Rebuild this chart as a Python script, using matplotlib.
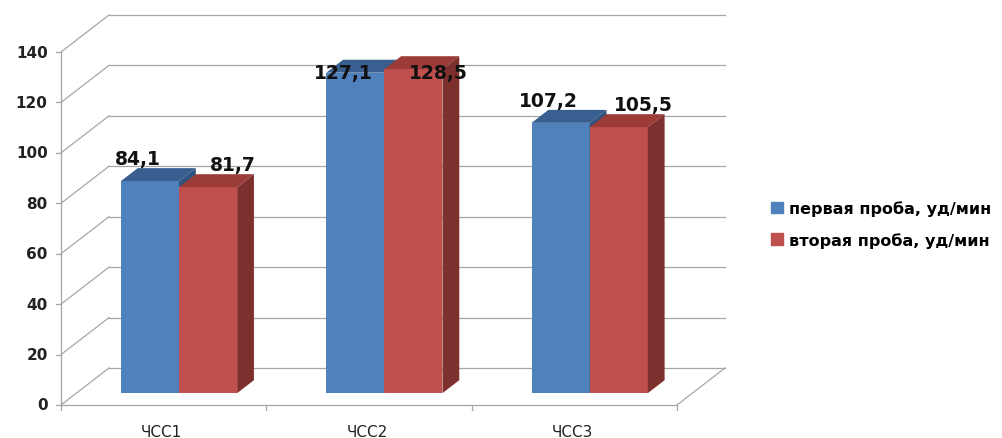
import matplotlib
matplotlib.use('Agg')
import matplotlib.pyplot as plt
from matplotlib.patches import Polygon, Patch

# data
categories = ['ЧСС1', 'ЧСС2', 'ЧСС3']
first_test = [84.1, 127.1, 107.2]
second_test = [81.7, 128.5, 105.5]
series_names = ['первая проба, уд/мин', 'вторая проба, уд/мин']
y_ticks = [0, 20, 40, 60, 80, 100, 120, 140]

front_colors = ['#4F81BD', '#C0504D']
top_colors = ['#385F8F', '#9B3C39']
side_colors = ['#2F5480', '#7E302E']
grid_color = '#a6a6a6'

fig = plt.figure(figsize=(10.03, 4.39), dpi=100)
ax = fig.add_axes([61 / 1003, 33 / 439, 616 / 1003, 353 / 439])
ax.set_xlim(0, 3)
ax.set_ylim(0, 140)
ax.axis('off')

# depth of the 3D box in data units
ddx = 48 / 205.3
ddy = 37 / 2.52
bar_w = 0.283
f0, f1 = 0.32, 0.67   # bar depth range as fraction of box depth

# walls / grid
for v in y_ticks:
    ax.plot([0, ddx], [v, v + ddy], color=grid_color, lw=0.9, clip_on=False)
    ax.plot([ddx, 3 + ddx], [v + ddy, v + ddy], color=grid_color, lw=0.9, clip_on=False)
    ax.plot([-0.024, 0], [v, v], color=grid_color, lw=0.9, clip_on=False)
    ax.text(-0.065, v, str(v), ha='right', va='center', fontsize=11,
            fontweight='bold', color='#222222')
ax.plot([0, 3], [0, 0], color=grid_color, lw=0.9, clip_on=False)
ax.plot([3, 3 + ddx], [0, ddy], color=grid_color, lw=0.9, clip_on=False)
ax.plot([0, 0], [0, 140], color=grid_color, lw=0.9, clip_on=False)
for i in range(4):
    ax.plot([i, i], [0, -2], color=grid_color, lw=0.9, clip_on=False)

for i, c in enumerate(categories):
    ax.text(i + 0.49, -10.5, c, ha='center', va='center', fontsize=11, color='#222222')

# bars
sx0, sy0 = f0 * ddx, f0 * ddy
dx, dy = (f1 - f0) * ddx, (f1 - f0) * ddy
for i in range(len(categories)):
    for s, vals in enumerate([first_test, second_test]):
        v = vals[i]
        xl = i + 0.5 + sx0 + (s - 1) * bar_w
        xr = xl + bar_w
        yb, yt = sy0, sy0 + v
        ax.bar(xl, v, width=bar_w, bottom=yb, align='edge',
               color=front_colors[s], zorder=3 + s * 3)
        ax.add_patch(Polygon([(xl, yt), (xr, yt), (xr + dx, yt + dy), (xl + dx, yt + dy)],
                             closed=True, color=top_colors[s], zorder=4 + s * 3, lw=0))
        ax.add_patch(Polygon([(xr, yb), (xr + dx, yb + dy), (xr + dx, yt + dy), (xr, yt)],
                             closed=True, color=side_colors[s], zorder=5 + s * 3, lw=0))
        lx = (xl + xr) / 2 + (-0.06 if s == 0 else 0.12)
        ly = min(v + 13.5, 132)
        ax.text(lx, ly, f'{v:.1f}'.replace('.', ','), ha='center', va='center',
                fontsize=13.5, fontweight='bold', color='#111111', zorder=20)

handles = [Patch(color=front_colors[0]), Patch(color=front_colors[1])]
fig.legend(handles, series_names, loc='center left', bbox_to_anchor=(757 / 1003, 0.4875),
           frameon=False, handlelength=0.75, handleheight=0.75, handletextpad=0.35,
           labelspacing=1.0, prop={'size': 11.5, 'weight': 'bold'})

fig.savefig('out.png', dpi=100)
